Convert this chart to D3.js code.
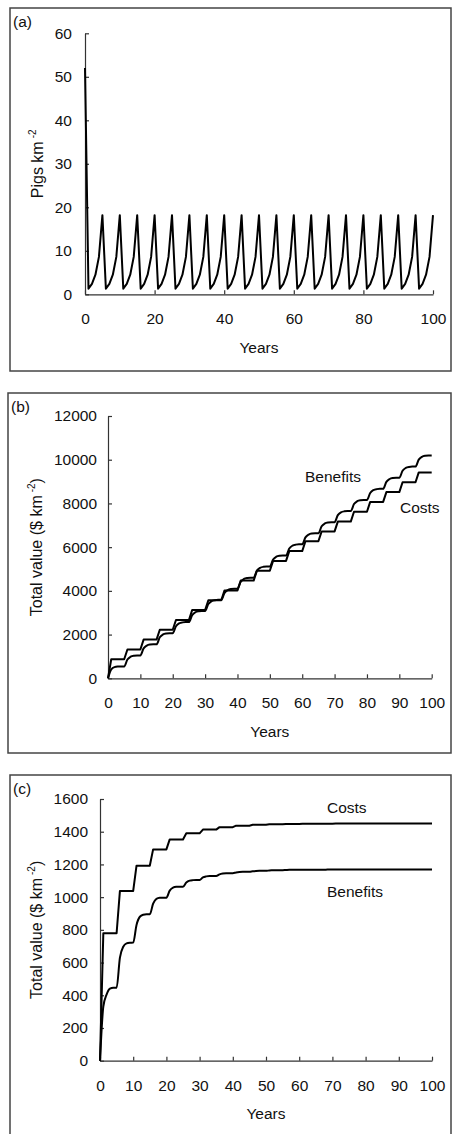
<!DOCTYPE html>
<html><head><meta charset="utf-8">
<script src="https://cdn.jsdelivr.net/npm/d3@7/dist/d3.min.js"></script>
<style>
body{margin:0;background:#fff}
text{font-family:"Liberation Sans",Arial,sans-serif;fill:#111}
</style>
</head><body>
<svg id="chart" width="452" height="1134"></svg>
<script>
// ---------- DATA (index = year 0..100) ----------
const pigs = [52,
  1.3,2.4,4.5,8.6,18.2, 1.3,2.4,4.5,8.6,18.2, 1.3,2.4,4.5,8.6,18.2, 1.3,2.4,4.5,8.6,18.2,
  1.3,2.4,4.5,8.6,18.2, 1.3,2.4,4.5,8.6,18.2, 1.3,2.4,4.5,8.6,18.2, 1.3,2.4,4.5,8.6,18.2,
  1.3,2.4,4.5,8.6,18.2, 1.3,2.4,4.5,8.6,18.2, 1.3,2.4,4.5,8.6,18.2, 1.3,2.4,4.5,8.6,18.2,
  1.3,2.4,4.5,8.6,18.2, 1.3,2.4,4.5,8.6,18.2, 1.3,2.4,4.5,8.6,18.2, 1.3,2.4,4.5,8.6,18.2,
  1.3,2.4,4.5,8.6,18.2, 1.3,2.4,4.5,8.6,18.2, 1.3,2.4,4.5,8.6,18.2, 1.3,2.4,4.5,8.6,18.2];

const totalCosts = [0,
  870,870,870,870,870, 1320,1320,1320,1320,1320, 1770,1770,1770,1770,1770, 2220,2220,2220,2220,2220,
  2670,2670,2670,2670,2670, 3120,3120,3120,3120,3120, 3570,3570,3570,3570,3570, 4020,4020,4020,4020,4020,
  4470,4470,4470,4470,4470, 4920,4920,4920,4920,4920, 5370,5370,5370,5370,5370, 5820,5820,5820,5820,5820,
  6270,6270,6270,6270,6270, 6720,6720,6720,6720,6720, 7170,7170,7170,7170,7170, 7620,7620,7620,7620,7620,
  8070,8070,8070,8070,8070, 8520,8520,8520,8520,8520, 8970,8970,8970,8970,8970, 9420,9420,9420,9420,9420];

const totalBenefits = [0,
  400,510,535,540,540, 860,990,1035,1048,1048, 1368,1498,1543,1556,1556, 1876,2006,2051,2064,2064,
  2384,2514,2559,2572,2572, 2892,3022,3067,3080,3080, 3400,3530,3575,3588,3588, 3908,4038,4083,4096,4096,
  4416,4546,4591,4604,4604, 4924,5054,5099,5112,5112, 5432,5562,5607,5620,5620, 5940,6070,6115,6128,6128,
  6448,6578,6623,6636,6636, 6956,7086,7131,7144,7144, 7464,7594,7639,7652,7652, 7972,8102,8147,8160,8160,
  8480,8610,8655,8668,8668, 8988,9118,9163,9176,9176, 9496,9626,9671,9684,9684, 10004,10134,10179,10192,10192];

const discCosts = [0,
  779,779,779,779,779, 1038,1038,1038,1038,1038, 1192,1192,1192,1192,1192, 1292,1292,1292,1292,1292,
  1353,1353,1353,1353,1353, 1390,1390,1390,1390,1390, 1413,1413,1413,1413,1413, 1428,1428,1428,1428,1428,
  1437,1437,1437,1437,1437, 1442,1442,1442,1442,1442, 1445,1445,1445,1445,1445, 1447,1447,1447,1447,1447,
  1448,1448,1448,1448,1448, 1449,1449,1449,1449,1449, 1450,1450,1450,1450,1450, 1450,1450,1450,1450,1450,
  1450,1450,1450,1450,1450, 1450,1450,1450,1450,1450, 1450,1450,1450,1450,1450, 1450,1450,1450,1450,1450];

const discBenefits = [0,
  330,405,440,446,446, 630,697,717,721,722, 830,880,892,895,895, 960,990,996,997,997,
  1040,1058,1063,1064,1064, 1090,1101,1104,1105,1105, 1121,1127,1129,1129,1129, 1139,1144,1146,1146,1146,
  1151,1154,1155,1155,1155, 1158,1160,1161,1161,1161, 1163,1164,1165,1165,1165, 1166,1167,1167,1167,1167,
  1168,1168,1168,1168,1168, 1168,1168,1168,1169,1169, 1169,1169,1169,1169,1169, 1169,1169,1169,1169,1169,
  1169,1169,1169,1169,1169, 1169,1169,1169,1169,1169, 1169,1169,1169,1169,1169, 1169,1169,1169,1169,1169];

const ticksXa = [0,20,40,60,80,100];
const ticksYa = [0,10,20,30,40,50,60];
const ticksXbc = [0,10,20,30,40,50,60,70,80,90,100];
const ticksYb = [0,2000,4000,6000,8000,10000,12000];
const ticksYc = [0,200,400,600,800,1000,1200,1400,1600];

// ---------- DRAW ----------
const svg = d3.select("#chart");
const FS = 15.5;

function panel(o){
  const g = svg.append("g");
  g.append("rect").attr("x",o.frame[0]).attr("y",o.frame[1])
    .attr("width",o.frame[2]).attr("height",o.frame[3])
    .attr("fill","none").attr("stroke","#444").attr("stroke-width",1.5);
  g.append("text").attr("x",o.frame[0]+3).attr("y",o.frame[1]+19)
    .attr("font-size",FS).text(o.tag);

  const x = d3.scaleLinear().domain([0,100]).range([o.px0,o.px1]);
  const y = d3.scaleLinear().domain(o.ydom).range([o.py0,o.py1]);

  const xa = g.append("g").attr("transform",`translate(0,${o.py0})`)
    .call(d3.axisBottom(x).tickValues(o.tx).tickSizeInner(-4).tickSizeOuter(0).tickPadding(19).tickFormat(d3.format("d")));
  const ya = g.append("g").attr("transform",`translate(${o.px0},0)`)
    .call(d3.axisLeft(y).tickValues(o.ty).tickSizeInner(-4).tickSizeOuter(0).tickPadding(o.ypad).tickFormat(d3.format("d")));
  [xa,ya].forEach(a=>{
    a.selectAll("path.domain").attr("stroke","#333").attr("stroke-width",1.2);
    a.selectAll(".tick line").attr("stroke","#333").attr("stroke-width",1.2);
    a.selectAll("text").attr("font-size",FS).attr("font-family",'"Liberation Sans",Arial,sans-serif').attr("fill","#111");
  });

  g.append("text").attr("x",(o.px0+o.px1)/2).attr("y",o.py0+58.5)
    .attr("text-anchor","middle").attr("font-size",FS).text("Years");

  const yl = g.append("text").attr("transform",`translate(${o.ylx},${(o.py0+o.py1)/2}) rotate(-90)`)
    .attr("text-anchor","middle").attr("font-size",16);
  yl.append("tspan").text(o.ylabel[0]);
  yl.append("tspan").attr("font-size",10).attr("dy",-7).attr("dx",3).text("-2");
  if(o.ylabel[1]) yl.append("tspan").attr("font-size",16).attr("dy",7).text(o.ylabel[1]);

  o.series.forEach(s=>{
    const line = d3.line().x((d,i)=>x(i)).y(d=>y(d)).curve(s.curve||d3.curveLinear);
    g.append("path").datum(s.data).attr("d",line)
      .attr("fill","none").attr("stroke","#000").attr("stroke-width",2).attr("stroke-linejoin","round");
  });
  (o.labels||[]).forEach(l=>{
    g.append("text").attr("x",l[1]).attr("y",l[2]).attr("font-size",FS).text(l[0]);
  });
}

panel({frame:[10,8,441,363], tag:"(a)", px0:85, px1:433, py0:294.3, py1:33.3, ydom:[0,60],
  tx:ticksXa, ty:ticksYa, ypad:13, ylx:43, ylabel:["Pigs km",null],
  series:[{data:pigs}]});

panel({frame:[8,393,443,360], tag:"(b)", px0:108, px1:431.7, py0:678.3, py1:416, ydom:[0,12000],
  tx:ticksXbc, ty:ticksYb, ypad:11, ylx:42, ylabel:["Total value ($ km",")"],
  series:[{data:totalCosts},{data:totalBenefits,curve:d3.curveMonotoneX}],
  labels:[["Benefits",305,481.5],["Costs",400,513]]});

panel({frame:[10,775,441,400], tag:"(c)", px0:100, px1:432, py0:1060.7, py1:799, ydom:[0,1600],
  tx:ticksXbc, ty:ticksYc, ypad:12, ylx:42, ylabel:["Total value ($ km",")"],
  series:[{data:discCosts},{data:discBenefits,curve:d3.curveMonotoneX}],
  labels:[["Costs",327,812.5],["Benefits",327,896.5]]});
</script>
</body></html>
